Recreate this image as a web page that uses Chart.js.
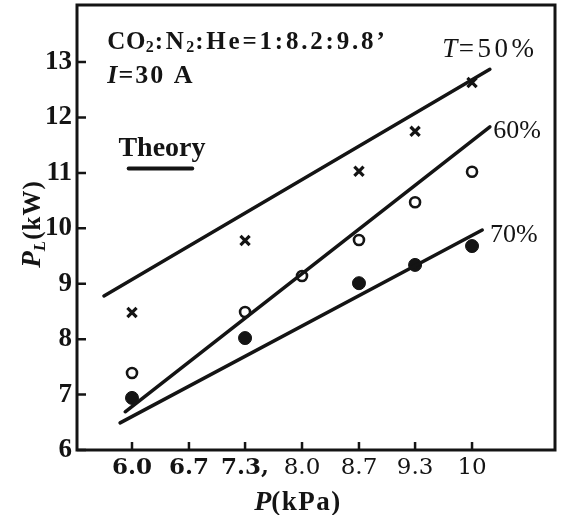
<!DOCTYPE html>
<html><head><meta charset="utf-8">
<script src="https://cdn.jsdelivr.net/npm/chart.js@4.4.0/dist/chart.umd.min.js"></script>
<style>html,body{margin:0;padding:0;background:#fff}canvas{display:block}</style>
</head><body>
<canvas id="c" width="561" height="515"></canvas>
<script>
// ---- data ----
const pressureTicks = [6.0, 6.67, 7.33, 8.0, 8.67, 9.33, 10.0];
const pressureTickLabels = ['6.0', '6.7', '7.3,', '8.0', '8.7', '9.3', '10'];
const powerTicks = [6, 7, 8, 9, 10, 11, 12, 13];

const crossP = [6.0, 7.33, 8.67, 9.33, 10.0];
const crossPL = [8.48, 9.78, 11.03, 11.75, 12.63];
const openP = [6.0, 7.33, 8.0, 8.67, 9.33, 10.0];
const openPL = [7.39, 8.49, 9.14, 9.79, 10.47, 11.02];
const filledP = [6.0, 7.33, 8.67, 9.33, 10.0];
const filledPL = [6.94, 8.02, 9.01, 9.34, 9.68];

const theory50P = [5.67, 10.21];
const theory50PL = [8.78, 12.87];
const theory60P = [5.92, 10.21];
const theory60PL = [6.69, 11.83];
const theory70P = [5.86, 10.12];
const theory70PL = [6.49, 9.97];

const lineLabels = ['=50%', '60%', '70%'];
const legendText = 'Theory';

const INK = '#141414';
const pts = (xs, ys) => xs.map((v, i) => ({x: v, y: ys[i]}));

function lineDs(xs, ys) {
  return {type: 'line', data: pts(xs, ys), showLine: true, borderColor: INK, borderWidth: 3.5,
          pointRadius: 0, fill: false, tension: 0, borderCapStyle: 'round'};
}

function drawSegs(ctx, segs, x, y) {
  let cx = x;
  segs.forEach(s => {
    ctx.font = s.f;
    ctx.letterSpacing = (s.ls || 0) + 'px';
    ctx.fillText(s.t, cx, y + (s.dy || 0));
    cx += ctx.measureText(s.t).width + (s.gap || 0);
  });
  ctx.letterSpacing = '0px';
  return cx - x;
}
function segsWidth(ctx, segs) {
  let w = 0;
  segs.forEach(s => { ctx.font = s.f; ctx.letterSpacing = (s.ls || 0) + 'px'; w += ctx.measureText(s.t).width + (s.gap || 0); });
  ctx.letterSpacing = '0px';
  return w;
}

const SERIF = '"Liberation Serif", "DejaVu Serif", serif';

const deco = {
  id: 'deco',
  beforeDatasetsDraw(chart) {
    const {ctx, chartArea: a, scales: {x, y}} = chart;
    ctx.save();
    ctx.strokeStyle = INK;
    ctx.lineWidth = 3;
    ctx.strokeRect(a.left, a.top, a.right - a.left, a.bottom - a.top);
    ctx.lineWidth = 2.5;
    ctx.beginPath();
    powerTicks.forEach(v => { const py = y.getPixelForValue(v); ctx.moveTo(a.left, py); ctx.lineTo(a.left + 9, py); });
    pressureTicks.forEach(v => { const px = x.getPixelForValue(v); ctx.moveTo(px, a.bottom); ctx.lineTo(px, a.bottom - 8); });
    ctx.stroke();
    ctx.restore();
  },
  afterDraw(chart) {
    const {ctx, chartArea: a, scales: {x, y}} = chart;
    ctx.save();
    ctx.fillStyle = INK;
    ctx.textBaseline = 'alphabetic';
    ctx.textAlign = 'left';
    const big = 'bold 25px ' + SERIF;
    const sub = 'bold 16px ' + SERIF;
    // gas mixture
    drawSegs(ctx, [
      {t: 'CO', f: big, ls: 0.5}, {t: '2', f: sub, dy: 3, ls: 1}, {t: ':N', f: big, ls: 2.5}, {t: '2', f: sub, dy: 3, ls: 1},
      {t: ':He=1:8.2:9.8’', f: big, ls: 2.8}
    ], x.getPixelForValue(5.71), y.getPixelForValue(13.23));
    // current
    drawSegs(ctx, [
      {t: 'I', f: 'italic bold 26px ' + SERIF, ls: 1}, {t: '=30 A', f: 'bold 26px ' + SERIF, ls: 2}
    ], x.getPixelForValue(5.71), y.getPixelForValue(12.62));
    // legend
    ctx.font = 'bold 28px ' + SERIF;
    ctx.fillText(legendText, x.getPixelForValue(5.84), y.getPixelForValue(11.30));
    ctx.strokeStyle = INK; ctx.lineWidth = 3.8; ctx.lineCap = 'round';
    ctx.beginPath();
    ctx.moveTo(x.getPixelForValue(5.96), y.getPixelForValue(11.08));
    ctx.lineTo(x.getPixelForValue(6.71), y.getPixelForValue(11.08));
    ctx.stroke();
    // line labels
    drawSegs(ctx, [{t: 'T', f: 'italic 27px ' + SERIF, ls: 1.5}, {t: lineLabels[0], f: '27px ' + SERIF, ls: 3.5}],
      x.getPixelForValue(9.65), y.getPixelForValue(13.09));
    drawSegs(ctx, [{t: lineLabels[1], f: '26px ' + SERIF}], x.getPixelForValue(10.25), y.getPixelForValue(11.63));
    drawSegs(ctx, [{t: lineLabels[2], f: '26px ' + SERIF}], x.getPixelForValue(10.21), y.getPixelForValue(9.75));
    // y axis title (rotated)
    const ySegs = [{t: 'P', f: 'italic bold 27px ' + SERIF}, {t: 'L', f: 'italic bold 17px ' + SERIF, dy: 5, gap: 1},
                   {t: '(kW)', f: 'bold 25px ' + SERIF, ls: 1}];
    ctx.save();
    ctx.translate(40, 224);
    ctx.rotate(-Math.PI / 2);
    drawSegs(ctx, ySegs, -segsWidth(ctx, ySegs) / 2, 0);
    ctx.restore();
    // x axis title
    const xSegs = [{t: 'P', f: 'italic bold 28px ' + SERIF}, {t: '(kPa)', f: 'bold 27px ' + SERIF, ls: 1.5}];
    drawSegs(ctx, xSegs, 298 - segsWidth(ctx, xSegs) / 2, 510);
    ctx.restore();
  }
};

new Chart(document.getElementById('c'), {
  type: 'scatter',
  data: {
    datasets: [
      lineDs(theory50P, theory50PL),
      lineDs(theory60P, theory60PL),
      lineDs(theory70P, theory70PL),
      {data: pts(crossP, crossPL), pointStyle: 'crossRot', pointRadius: 6.5, borderColor: INK, borderWidth: 3.2, backgroundColor: INK},
      {data: pts(openP, openPL), pointStyle: 'circle', pointRadius: 5, borderColor: INK, borderWidth: 2.6, backgroundColor: '#fff'},
      {data: pts(filledP, filledPL), pointStyle: 'circle', pointRadius: 6.5, borderColor: INK, borderWidth: 1, backgroundColor: INK}
    ]
  },
  options: {
    responsive: false,
    animation: false,
    devicePixelRatio: 1,
    layout: {autoPadding: false, padding: {top: 5, right: 6, left: 0, bottom: 0}},
    plugins: {legend: {display: false}, tooltip: {enabled: false}, title: {display: false}},
    scales: {
      x: {
        type: 'linear', min: 5.353, max: 10.976,
        grid: {display: false, drawTicks: false}, border: {display: false},
        afterFit: s => { s.height = 65; s.paddingLeft = 0; s.paddingRight = 0; },
        afterBuildTicks: s => { s.ticks = pressureTicks.map(v => ({value: v})); },
        ticks: {
          color: INK, padding: 4, autoSkip: false, maxRotation: 0,
          font: ctx => ({family: 'DejaVu Serif', size: 23, weight: ctx.index < 3 ? 'bold' : 'normal'}),
          callback: (v, i) => pressureTickLabels[i]
        }
      },
      y: {
        type: 'linear', min: 6, max: 14.03,
        grid: {display: false, drawTicks: false}, border: {display: false},
        afterFit: s => { s.width = 77; s.paddingTop = 0; s.paddingBottom = 0; },
        afterBuildTicks: s => { s.ticks = powerTicks.map(v => ({value: v})); },
        ticks: {
          color: INK, padding: 5,
          font: {family: 'Liberation Serif', size: 27, weight: 'bold'},
          callback: v => String(v)
        }
      }
    }
  },
  plugins: [deco]
});
</script>
</body></html>
